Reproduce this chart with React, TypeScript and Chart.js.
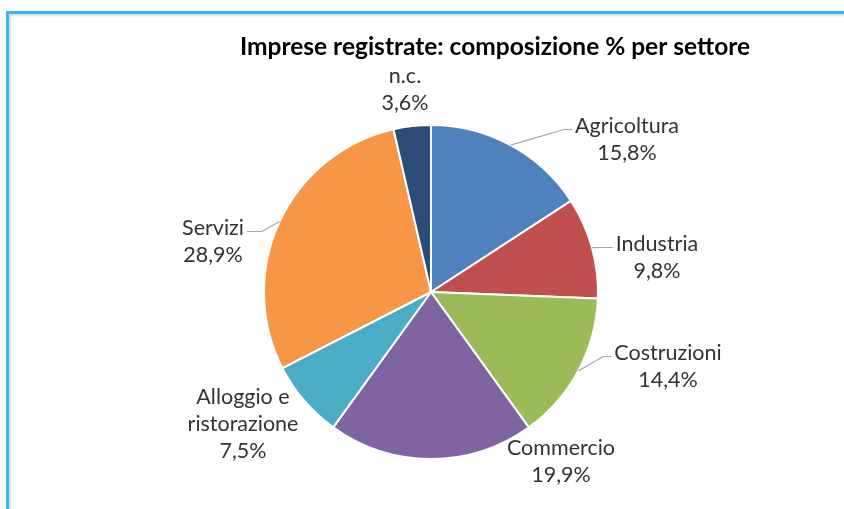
import React, { useEffect, useRef } from "react";
import { Chart, registerables } from "chart.js";

Chart.register(...registerables);

const titleText = "Imprese registrate: composizione % per settore";
const categories = ["Agricoltura", "Industria", "Costruzioni", "Commercio", "Alloggio e ristorazione", "Servizi", "n.c."];
const values = [15.8, 9.8, 14.4, 19.9, 7.5, 28.9, 3.6];
const sliceColors = ["#4F81BD", "#C0504D", "#9BBB59", "#8064A2", "#4BACC6", "#F79646", "#2C4D75"];
const labelLines = [["Agricoltura"], ["Industria"], ["Costruzioni"], ["Commercio"], ["Alloggio e", "ristorazione"], ["Servizi"], ["n.c."]];
// label block centres relative to the pie centre (px), and whether a leader line is drawn
const labelOffsets = [[196, -152], [226, -34], [237, 75], [130, 170], [-188, 132], [-218, -50], [-26, -202]];
const leaderFlags = [true, true, true, false, false, true, false];

const FONT = "Lato, 'Open Sans', sans-serif";
const W = 844;
const H = 509;

function fmt(v: number) {
  return v.toFixed(1).replace(".", ",") + "%";
}

export default function App() {
  const ref = useRef<HTMLCanvasElement>(null);
  useEffect(() => {
    if (!ref.current) return;
    const labelPlugin = {
      id: "pieLabels",
      afterDraw(chart: any) {
        const ctx = chart.ctx as CanvasRenderingContext2D;
        ctx.save();
        // title
        ctx.fillStyle = "#000000";
        ctx.font = `bold 24.5px ${FONT}`;
        ctx.textAlign = "center";
        ctx.textBaseline = "middle";
        ctx.fillText(titleText, 495, 47);

        const meta = chart.getDatasetMeta(0);
        const lineH = 27;
        ctx.font = `21.5px ${FONT}`;
        meta.data.forEach((arc: any, i: number) => {
          const p = arc.getProps(["x", "y", "outerRadius", "startAngle", "endAngle"], true);
          const mid = (p.startAngle + p.endAngle) / 2;
          const lines = [...labelLines[i], fmt(values[i])];
          const lx = p.x + labelOffsets[i][0];
          const ly = p.y + labelOffsets[i][1];
          const y0 = ly - ((lines.length - 1) * lineH) / 2;
          ctx.fillStyle = "#333333";
          ctx.textAlign = "center";
          ctx.textBaseline = "middle";
          lines.forEach((t, k) => ctx.fillText(t, lx, y0 + k * lineH));
          if (leaderFlags[i]) {
            const sx = p.x + p.outerRadius * Math.cos(mid);
            const sy = p.y + p.outerRadius * Math.sin(mid);
            const w = ctx.measureText(lines[0]).width;
            const right = lx > p.x;
            const ex = right ? lx - w / 2 - 3 : lx + w / 2 + 3;
            const ey = y0 + 3;
            const bx = right ? ex - 8 : ex + 15;
            ctx.strokeStyle = "#A6A6A6";
            ctx.lineWidth = 1.2;
            ctx.beginPath();
            ctx.moveTo(sx, sy);
            ctx.lineTo(bx, ey);
            ctx.lineTo(ex, ey);
            ctx.stroke();
          }
        });
        ctx.restore();
      },
    };
    const chart = new Chart(ref.current, {
      type: "pie",
      data: {
        labels: categories,
        datasets: [
          {
            data: values,
            backgroundColor: sliceColors,
            borderColor: "#FFFFFF",
            borderWidth: 2,
          },
        ],
      },
      options: {
        responsive: false,
        animation: false,
        devicePixelRatio: 1,
        layout: { padding: { left: 263, right: 245, top: 124, bottom: 49 } },
        plugins: {
          legend: { display: false },
          title: { display: false },
          tooltip: { enabled: false },
        },
      },
      plugins: [labelPlugin],
    });
    return () => chart.destroy();
  }, []);

  return (
    <div style={{ position: "absolute", left: 0, top: 0, width: W, height: H, background: "#FFFFFF", overflow: "hidden" }}>
      <div
        style={{
          position: "absolute",
          left: 6,
          top: 11,
          width: W + 20,
          height: H + 20,
          borderTop: "3px solid #35B6F6",
          borderLeft: "3px solid #35B6F6",
          boxShadow: "inset 2px 2px 2px rgba(0,0,0,0.12)",
          background: "#FFFFFF",
        }}
      />
      <canvas ref={ref} width={W} height={H} style={{ position: "absolute", left: 0, top: 0 }} />
    </div>
  );
}
